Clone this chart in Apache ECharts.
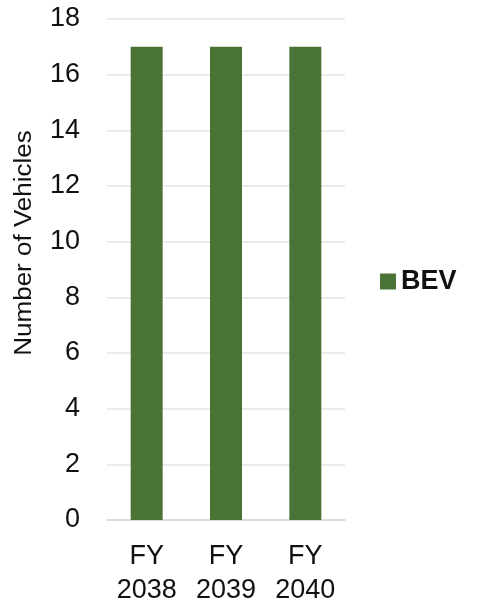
<!DOCTYPE html>
<html>
<head>
<meta charset="utf-8">
<script src="https://cdn.jsdelivr.net/npm/echarts@6/dist/echarts.min.js"></script>
<style>
html,body{margin:0;padding:0;background:#fff;}
#chart{width:477px;height:608px;}
</style>
</head>
<body>
<div id="chart"></div>
<script>
var categories = ['FY\n2038', 'FY\n2039', 'FY\n2040'];
var bevValues = [17, 17, 17];
var seriesName = 'BEV';
var yAxisTitle = 'Number of Vehicles';

var FONT = '"Liberation Sans", Arial, sans-serif';
var chart = echarts.init(document.getElementById('chart'));
chart.setOption({
  animation: false,
  backgroundColor: '#ffffff',
  grid: {left: 107, right: 132, top: 19, bottom: 85},
  legend: {
    data: [seriesName],
    left: 375,
    top: 263,
    icon: 'rect',
    itemWidth: 16,
    itemHeight: 16,
    itemGap: 10,
    textStyle: {fontFamily: FONT, fontSize: 27, fontWeight: 'bold', color: '#111'}
  },
  xAxis: {
    type: 'category',
    data: categories,
    axisLine: {show: true, lineStyle: {color: '#d9d9d9', width: 1.5}},
    axisTick: {show: false},
    axisLabel: {fontFamily: FONT, fontSize: 27, color: '#111', lineHeight: 34, margin: 20}
  },
  yAxis: {
    type: 'value',
    min: 0,
    max: 18,
    interval: 2,
    axisLine: {show: false},
    axisTick: {show: false},
    splitLine: {lineStyle: {color: '#e4e4e4', width: 1.5}},
    axisLabel: {fontFamily: FONT, fontSize: 27, color: '#111', margin: 27}
  },
  graphic: [{
    type: 'text',
    x: 25,
    y: 243,
    rotation: Math.PI / 2,
    scaleY: 0.9,
    style: {
      text: yAxisTitle,
      font: '26px ' + FONT,
      fill: '#111',
      align: 'center',
      verticalAlign: 'middle'
    }
  }],
  series: [{
    name: seriesName,
    type: 'bar',
    data: bevValues,
    barWidth: 32,
    itemStyle: {color: '#4a7436'}
  }]
});
</script>
</body>
</html>
